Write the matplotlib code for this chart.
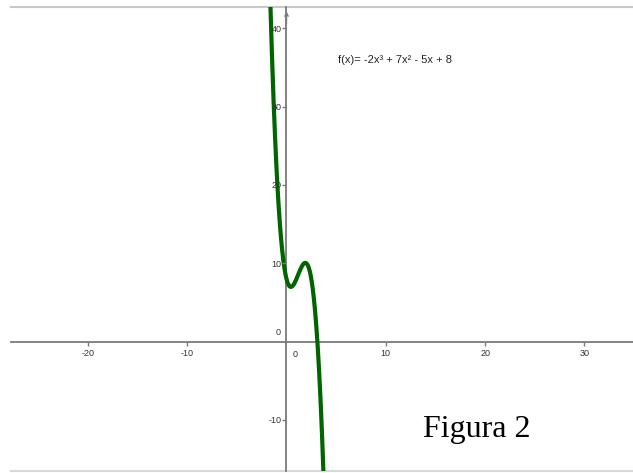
import numpy as np
import matplotlib
matplotlib.use("Agg")
import matplotlib.pyplot as plt

# Data: polynomial coefficients of f(x) = -2x^3 + 7x^2 - 5x + 8
coeffs = [-2, 7, -5, 8]
x_ticks = [-20, -10, 10, 20, 30]
y_ticks = [-10, 10, 20, 30, 40]
x_range = (-27.74, 34.89)
y_range = (-16.53, 42.73)
label_text = "f(x)= -2x³ + 7x² - 5x + 8"
figure_label = "Figura 2"

W, H = 633, 473
fig = plt.figure(figsize=(W / 100, H / 100), dpi=100)
ax = fig.add_axes([11 / W, (H - 471) / H, (633 - 11) / W, (471 - 7) / H])
ax.set_xlim(*x_range)
ax.set_ylim(*y_range)

xs = np.linspace(-5, 6, 2000)
ys = np.polyval(coeffs, xs)
ax.plot(xs, ys, color="#006400", lw=3.0, solid_capstyle="butt", zorder=3)

axis_col = "#7a7a7a"
for s in ["left", "bottom"]:
    ax.spines[s].set_position(("data", 0))
    ax.spines[s].set_color(axis_col)
    ax.spines[s].set_linewidth(1.3)
for s in ["top", "right"]:
    ax.spines[s].set_visible(False)

# light gray frame lines at top and bottom
ax.axhline(y_range[1], color="#c8c8c8", lw=1.5, zorder=1, clip_on=False)
ax.axhline(y_range[0], color="#d8d8d8", lw=1.5, zorder=1, clip_on=False)

tick_font = dict(family="Liberation Sans", size=6.5, color="#333333")
ax.set_xticks(x_ticks)
ax.set_yticks(y_ticks)
ax.set_xticklabels([str(v) for v in x_ticks], **tick_font)
ax.set_yticklabels([str(v) for v in y_ticks], **tick_font)
ax.tick_params(axis="both", direction="out", length=3, width=1, color=axis_col)
ax.tick_params(axis="x", pad=2.5)
ax.tick_params(axis="y", pad=0.5)
ax.yaxis.set_zorder(4)

# origin labels
ax.annotate("0", xy=(0, 0), xytext=(-6, 3.5), textcoords="offset points",
            ha="center", va="bottom", **tick_font)
ax.annotate("0", xy=(0, 0), xytext=(6, -6), textcoords="offset points",
            ha="center", va="top", **tick_font)

# arrow at top of y axis
ax.annotate("", xy=(0, y_range[1] - 0.2), xytext=(0, y_range[1] - 2.5),
            arrowprops=dict(arrowstyle="->", color=axis_col, lw=1.0,
                            mutation_scale=6), annotation_clip=False)

ax.text(5.19, 35.9, label_text, family="Liberation Sans", size=8,
        color="#222222", ha="left", va="center")
ax.text(13.75, -12.15, figure_label, family="Liberation Serif", size=23,
        color="black", ha="left", va="baseline")

fig.savefig("out.png", dpi=100)
